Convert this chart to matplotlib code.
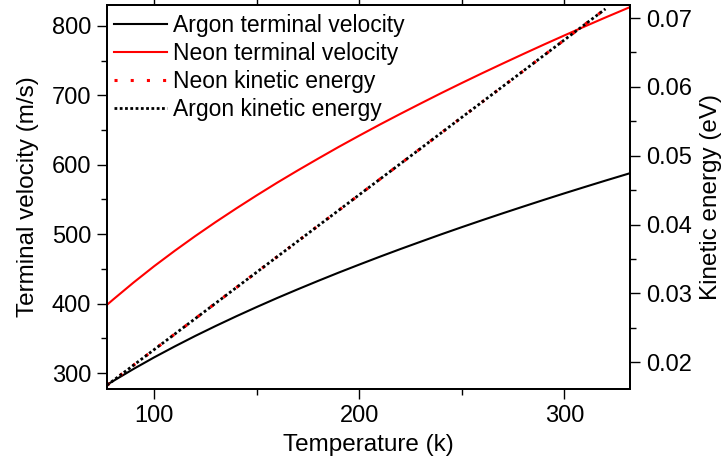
import matplotlib
matplotlib.use("Agg")
import matplotlib.pyplot as plt
from matplotlib.ticker import MultipleLocator

plt.rcParams["font.family"] = ["Liberation Sans", "DejaVu Sans"]
plt.rcParams["font.size"] = 16

# temperature grid (K) and values
temp_v  = [77, 80, 90, 100, 110, 120, 130, 140, 150, 160, 170, 180, 190, 200,
           210, 220, 230, 240, 250, 260, 270, 280, 290, 300, 310, 320, 330, 332]
argon_v = [283.1, 288.5, 306.0, 322.6, 338.3, 353.4, 367.8, 381.7, 395.1, 408.1,
           420.6, 432.8, 444.7, 456.2, 467.5, 478.5, 489.2, 499.8, 510.1, 520.2,
           530.1, 539.8, 549.4, 558.8, 568.0, 577.1, 586.0, 587.8]
neon_v  = [398.3, 405.9, 430.5, 453.9, 476.0, 497.2, 517.5, 537.0, 555.9, 574.2,
           591.8, 608.9, 625.7, 641.9, 657.8, 673.2, 688.3, 703.2, 717.7, 731.9,
           745.8, 759.5, 773.0, 786.2, 799.2, 812.0, 824.5, 827.0]

temp_e  = [77, 100, 125, 150, 175, 200, 225, 250, 275, 300, 320]
neon_e  = [0.01665, 0.02183, 0.02745, 0.03308, 0.03870, 0.04433,
           0.04995, 0.05558, 0.06120, 0.06683, 0.07133]
argon_e = [0.01665, 0.02183, 0.02745, 0.03308, 0.03870, 0.04433,
           0.04995, 0.05558, 0.06120, 0.06683, 0.07133]

fig = plt.figure(figsize=(7.26, 4.63), dpi=100)
ax = fig.add_axes([0.1474, 0.1598, 0.8678 - 0.1474, 0.9892 - 0.1598])
ax2 = ax.twinx()
axt = ax.twiny()

l1, = ax.plot(temp_v, argon_v, color="black", lw=1.5, label="Argon terminal velocity")
l2, = ax.plot(temp_v, neon_v, color="red", lw=1.5, label="Neon terminal velocity")
l3, = ax2.plot(temp_e, neon_e, color="red", lw=2.2, ls=(0, (1, 4.3)), label="Neon kinetic energy")
l4, = ax2.plot(temp_e, argon_e, color="black", lw=2, ls=(0, (1, 0.9)), label="Argon kinetic energy")

ax.set_xlim(77, 332)
ax.set_ylim(277, 830)
ax2.set_ylim(0.0161, 0.0719)
axt.set_xlim(77, 332)

ax.xaxis.set_major_locator(MultipleLocator(100))
ax.xaxis.set_minor_locator(MultipleLocator(50))
ax.yaxis.set_major_locator(MultipleLocator(100))
ax.yaxis.set_minor_locator(MultipleLocator(50))
ax2.set_yticks([0.02, 0.03, 0.04, 0.05, 0.06, 0.07])
ax2.set_yticklabels(["0.02", "0.03", "0.04", "0.05", "0.06", "0.07"])
ax2.yaxis.set_minor_locator(MultipleLocator(0.005))
axt.xaxis.set_major_locator(MultipleLocator(50))
axt.set_xticklabels([])

for a in (ax, ax2, axt):
    a.tick_params(which="major", direction="out", length=7.5, width=1, labelsize=17, pad=4)
    a.tick_params(which="minor", direction="out", length=4, width=1)
    for s in a.spines.values():
        s.set_linewidth(1.2)
axt.tick_params(which="major", length=6)

ax.set_xlabel("Temperature (k)", fontsize=17.5, labelpad=5)
ax.set_ylabel("Terminal velocity (m/s)", fontsize=17.5, labelpad=9)
ax2.set_ylabel("Kinetic energy (eV)", fontsize=17.5, labelpad=6)

ax.legend(handles=[l1, l2, l3, l4], loc="upper left", frameon=False,
          fontsize=16.5, handlelength=2.3, handletextpad=0.25, labelspacing=0.22,
          borderaxespad=0.0, bbox_to_anchor=(-0.004, 1.0))

fig.savefig("out.png", dpi=100)
